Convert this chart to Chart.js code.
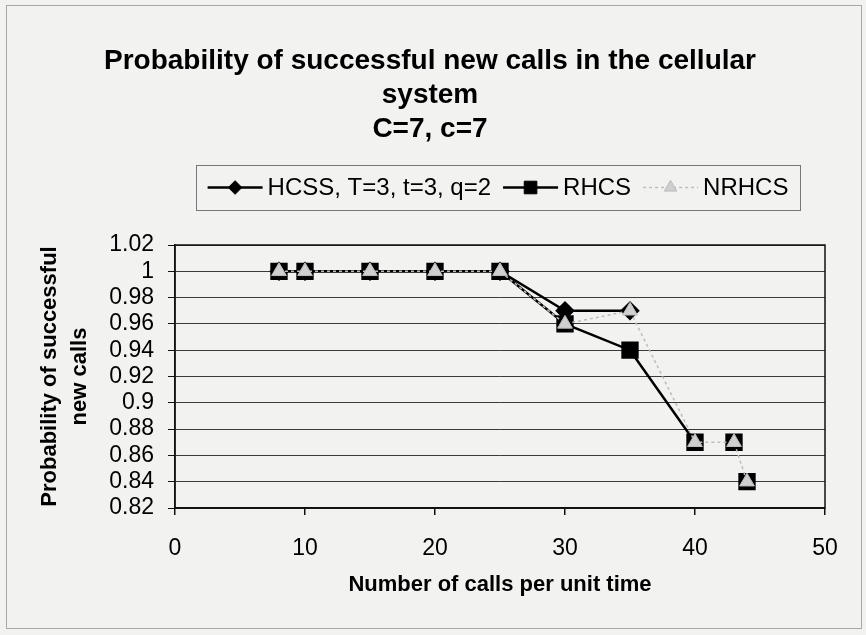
<!DOCTYPE html>
<html>
<head>
<meta charset="utf-8">
<script src="https://cdn.jsdelivr.net/npm/chart.js@4.4.1/dist/chart.umd.min.js"></script>
<style>
  html, body { margin: 0; padding: 0; background: #f2f2f0; }
  canvas { display: block; }
</style>
</head>
<body>
<canvas id="chart" width="866" height="635"></canvas>
<script>
// Offered load (new calls per unit time) and success probability per scheme
const callRates   = [8, 10, 15, 20, 25, 30, 35, 40, 43, 44];
const hcssValues  = [1, 1, 1, 1, 1, 0.97, 0.97, null, null, null];
const rhcsValues  = [1, 1, 1, 1, 1, 0.96, 0.94, 0.87, 0.87, 0.84];
const nrhcsValues = [1, 1, 1, 1, 1, 0.96, 0.97, 0.87, 0.87, 0.84];
// RHCS line segments are only joined up to this load
const rhcsJoinedUpTo = 40;

const seriesNames = ['HCSS, T=3, t=3, q=2', 'RHCS', 'NRHCS'];
const xTicks = [0, 10, 20, 30, 40, 50];
const yTicks = [0.82, 0.84, 0.86, 0.88, 0.9, 0.92, 0.94, 0.96, 0.98, 1, 1.02];

const FONT = '"Liberation Sans", Arial, sans-serif';

const toPoints = vals => callRates.map((x, i) => ({ x: x, y: vals[i] }));

// Page background, outer frame and plot-area frame
const framePlugin = {
  id: 'frame',
  beforeDraw(chart) {
    const ctx = chart.ctx;
    ctx.save();
    ctx.fillStyle = '#f2f2f0';
    ctx.fillRect(0, 0, chart.width, chart.height);
    ctx.strokeStyle = '#a8a8a8';
    ctx.lineWidth = 1;
    ctx.strokeRect(6.5, 5.5, 855, 623);
    ctx.restore();
  },
  beforeDatasetsDraw(chart) {
    const { ctx, chartArea: a } = chart;
    ctx.save();
    ctx.strokeStyle = '#111';
    ctx.lineWidth = 1.5;
    ctx.strokeRect(a.left, a.top, a.right - a.left, a.bottom - a.top);
    ctx.restore();
  }
};

// Boxed legend with line + marker samples
const boxLegendPlugin = {
  id: 'boxLegend',
  afterDraw(chart, args, opts) {
    const ctx = chart.ctx;
    const sets = opts.order.map(i => chart.data.datasets[i]);
    ctx.save();
    ctx.font = opts.fontSize + 'px ' + FONT;
    const sampleW = opts.sampleWidth, gap = opts.textGap, itemGap = opts.itemGap;
    const widths = sets.map(ds => sampleW + gap + ctx.measureText(ds.label).width);
    const total = widths.reduce((s, w) => s + w, 0) + itemGap * (sets.length - 1);
    const boxL = opts.left, boxR = opts.right, boxT = opts.top, boxB = opts.bottom;
    ctx.strokeStyle = '#777';
    ctx.lineWidth = 1;
    ctx.strokeRect(boxL + 0.5, boxT + 0.5, boxR - boxL, boxB - boxT);
    const cy = (boxT + boxB) / 2;
    let x = (boxL + boxR) / 2 - total / 2;
    sets.forEach((ds, i) => {
      ctx.save();
      ctx.strokeStyle = ds.borderColor;
      ctx.lineWidth = ds.borderWidth;
      ctx.setLineDash(ds.borderDash || []);
      ctx.beginPath();
      ctx.moveTo(x, cy);
      ctx.lineTo(x + sampleW, cy);
      ctx.stroke();
      ctx.restore();
      ctx.save();
      ctx.fillStyle = ds.pointBackgroundColor;
      ctx.strokeStyle = ds.pointBorderColor;
      ctx.lineWidth = 1;
      Chart.helpers.drawPoint(ctx, {
        pointStyle: ds.pointStyle, radius: ds.pointRadius * 0.85, rotation: 0, borderWidth: 1
      }, x + sampleW / 2, cy);
      ctx.restore();
      ctx.fillStyle = '#000';
      ctx.textBaseline = 'middle';
      ctx.textAlign = 'left';
      ctx.fillText(ds.label, x + sampleW + gap, cy + 1);
      x += widths[i] + itemGap;
    });
    ctx.restore();
  }
};

new Chart(document.getElementById('chart'), {
  type: 'line',
  data: {
    datasets: [
      {
        label: seriesNames[0],
        data: toPoints(hcssValues),
        borderColor: '#000',
        borderWidth: 2.5,
        pointStyle: 'rectRot',
        pointRadius: 8,
        pointBackgroundColor: '#000',
        pointBorderColor: '#000',
        order: 3
      },
      {
        label: seriesNames[1],
        data: toPoints(rhcsValues),
        borderColor: '#000',
        borderWidth: 2.5,
        pointStyle: 'rect',
        pointRadius: 10.5,
        pointBackgroundColor: '#000',
        pointBorderColor: '#000',
        segment: {
          borderColor: c => c.p0.parsed.x >= rhcsJoinedUpTo ? 'rgba(0,0,0,0)' : '#000'
        },
        order: 2
      },
      {
        label: seriesNames[2],
        data: toPoints(nrhcsValues),
        borderColor: '#bdbdbd',
        borderWidth: 1.5,
        borderDash: [3, 3],
        pointStyle: 'triangle',
        pointRadius: 8.5,
        pointBackgroundColor: '#cfcfcf',
        pointBorderColor: '#bcbcbc',
        pointBorderWidth: 1,
        order: 1
      }
    ]
  },
  options: {
    responsive: false,
    animation: false,
    layout: { padding: { left: 35, right: 41, top: 0, bottom: 37 } },
    elements: { line: { tension: 0, fill: false } },
    plugins: {
      legend: { display: false },
      tooltip: { enabled: false },
      title: {
        display: true,
        text: ['Probability of successful new calls in the cellular', 'system', 'C=7, c=7'],
        color: '#000',
        font: { family: FONT, size: 28, weight: 'bold', lineHeight: '34px' },
        padding: { top: 44, bottom: 99 }
      },
      boxLegend: {
        order: [0, 1, 2],
        left: 196, right: 800, top: 165, bottom: 210,
        fontSize: 24, sampleWidth: 55, textGap: 5, itemGap: 12
      }
    },
    scales: {
      x: {
        type: 'linear',
        min: 0, max: 50,
        afterFit: s => { s.height = 90; },
        afterBuildTicks: s => { s.ticks = xTicks.map(v => ({ value: v })); },
        grid: { drawOnChartArea: false, color: '#111', tickLength: 7, lineWidth: 1.5 },
        border: { color: '#111', width: 1.5 },
        ticks: { color: '#000', font: { family: FONT, size: 23 }, padding: 20, maxRotation: 0, autoSkip: false },
        title: {
          display: true,
          text: 'Number of calls per unit time',
          color: '#000',
          font: { family: FONT, size: 22, weight: 'bold' },
          padding: { top: 0, bottom: 0 }
        }
      },
      y: {
        min: 0.82, max: 1.02,
        afterFit: s => { s.width = 140; },
        afterBuildTicks: s => { s.ticks = yTicks.map(v => ({ value: v })); },
        grid: { color: '#3a3a3a', lineWidth: 1, tickLength: 7, tickColor: '#111' },
        border: { color: '#111', width: 1.5 },
        ticks: {
          color: '#000',
          font: { family: FONT, size: 23 },
          padding: 14,
          autoSkip: false,
          callback: v => String(+Number(v).toFixed(2))
        },
        title: {
          display: true,
          text: ['Probability of successful', 'new calls'],
          color: '#000',
          font: { family: FONT, size: 22, weight: 'bold', lineHeight: '30px' },
          padding: { top: 0, bottom: 4 }
        }
      }
    }
  },
  plugins: [framePlugin, boxLegendPlugin]
});
</script>
</body>
</html>
